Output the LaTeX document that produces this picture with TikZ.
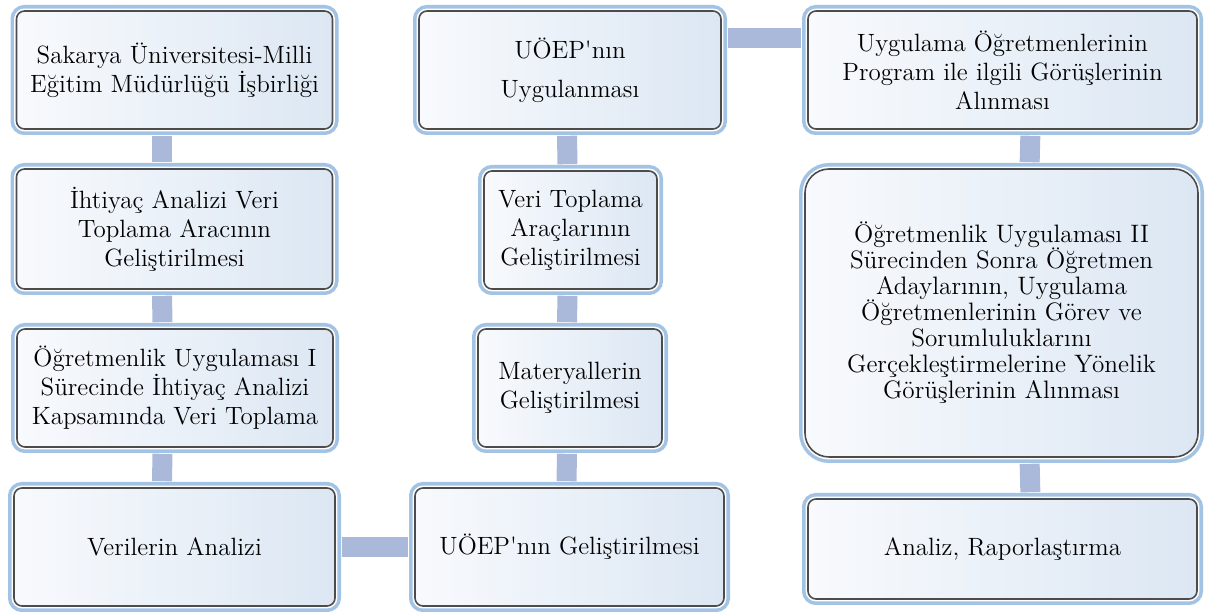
\documentclass[tikz,border=0pt]{standalone}
\usepackage{tikz}

\definecolor{rimblue}{RGB}{163,195,229}
\definecolor{fillwhite}{RGB}{248,250,253}
\definecolor{fillblue}{RGB}{220,231,243}
\definecolor{linkblue}{RGB}{170,185,218}

\begin{document}
\begin{tikzpicture}[x=0.5pt, y=-0.5pt,
		stage/.style={align=center, rounded corners=4pt, draw=black!70, line width=0.8pt,
			left color=fillwhite, right color=fillblue,
			preaction={draw=rimblue, line width=6pt},
			preaction={draw=white, line width=2.4pt},
			inner sep=2pt, minimum height=59pt, font=\fontsize{12.5}{14.5}\selectfont},
		link/.style={draw=linkblue, line width=10pt, shorten <=3pt, shorten >=3pt}]
		\useasboundingbox (0,0) rectangle (1205,613);
		\node[stage, minimum width=158pt] (isbirligi) at (174.5,70) {Sakarya Üniversitesi-Milli\\Eğitim Müdürlüğü İşbirliği};
		\node[stage, minimum width=158pt, minimum height=60pt] (ihtiyacarac) at (174.5,229) {İhtiyaç Analizi Veri\\Toplama Aracının\\Geliştirilmesi};
		\node[stage, minimum width=158pt] (veritoplama) at (175,388) {Öğretmenlik Uygulaması I\\Sürecinde İhtiyaç Analizi\\Kapsamında Veri Toplama};
		\node[stage, minimum width=160.5pt] (analiz) at (174.5,547) {Verilerin Analizi};
		\node[stage, minimum width=151pt] (uygulama) at (570,70) {UÖEP\textquotesingle nın\\[5pt]Uygulanması};
		\node[stage, minimum width=86.5pt] (aracgelistir) at (570.5,230) {Veri Toplama\\Araçlarının\\Geliştirilmesi};
		\node[stage, minimum width=92pt] (materyal) at (570,388) {Materyallerin\\Geliştirilmesi};
		\node[stage, minimum width=154.5pt] (gelistirme) at (569.5,547) {UÖEP\textquotesingle nın Geliştirilmesi};
		\node[stage, minimum width=194.5pt] (gorusler) at (1002.5,70) {Uygulama Öğretmenlerinin\\Program ile ilgili Görüşlerinin\\Alınması};
		\node[stage, rounded corners=12pt, minimum width=196.5pt, minimum height=144pt,
			font=\fontsize{12.6}{13}\selectfont] (adaygorus) at (1001.5,313)
		{Öğretmenlik Uygulaması II\\Sürecinden Sonra Öğretmen\\Adaylarının, Uygulama\\Öğretmenlerinin Görev ve\\Sorumluluklarını\\Gerçekleştirmelerine Yönelik\\Görüşlerinin Alınması};
		\node[stage, minimum width=194.5pt, minimum height=50pt] (rapor) at (1002.5,549) {Analiz, Raporlaştırma};
		\draw[link] ([xshift=-6.25pt]isbirligi.south) -- ([xshift=-6.25pt]ihtiyacarac.north);
		\draw[link] ([xshift=-6.25pt]ihtiyacarac.south) -- ([xshift=-6.25pt]veritoplama.north);
		\draw[link] ([xshift=-6.25pt]veritoplama.south) -- ([xshift=-6.25pt]analiz.north);
		\draw[link] (analiz.east) -- (gelistirme.west);
		\draw[link] ([xshift=-1.5pt]gelistirme.north) -- ([xshift=-1.5pt]materyal.south);
		\draw[link] ([xshift=-1.5pt]materyal.north) -- ([xshift=-1.5pt]aracgelistir.south);
		\draw[link] ([xshift=-1.5pt]aracgelistir.north) -- ([xshift=-1.5pt]uygulama.south);
		\draw[link] ([yshift=16pt]uygulama.east) -- ([yshift=16pt]gorusler.west);
		\draw[link] ([xshift=14pt]gorusler.south) -- ([xshift=14pt]adaygorus.north);
		\draw[link] ([xshift=14pt]adaygorus.south) -- ([xshift=14pt]rapor.north);
	\end{tikzpicture}
\end{document}
